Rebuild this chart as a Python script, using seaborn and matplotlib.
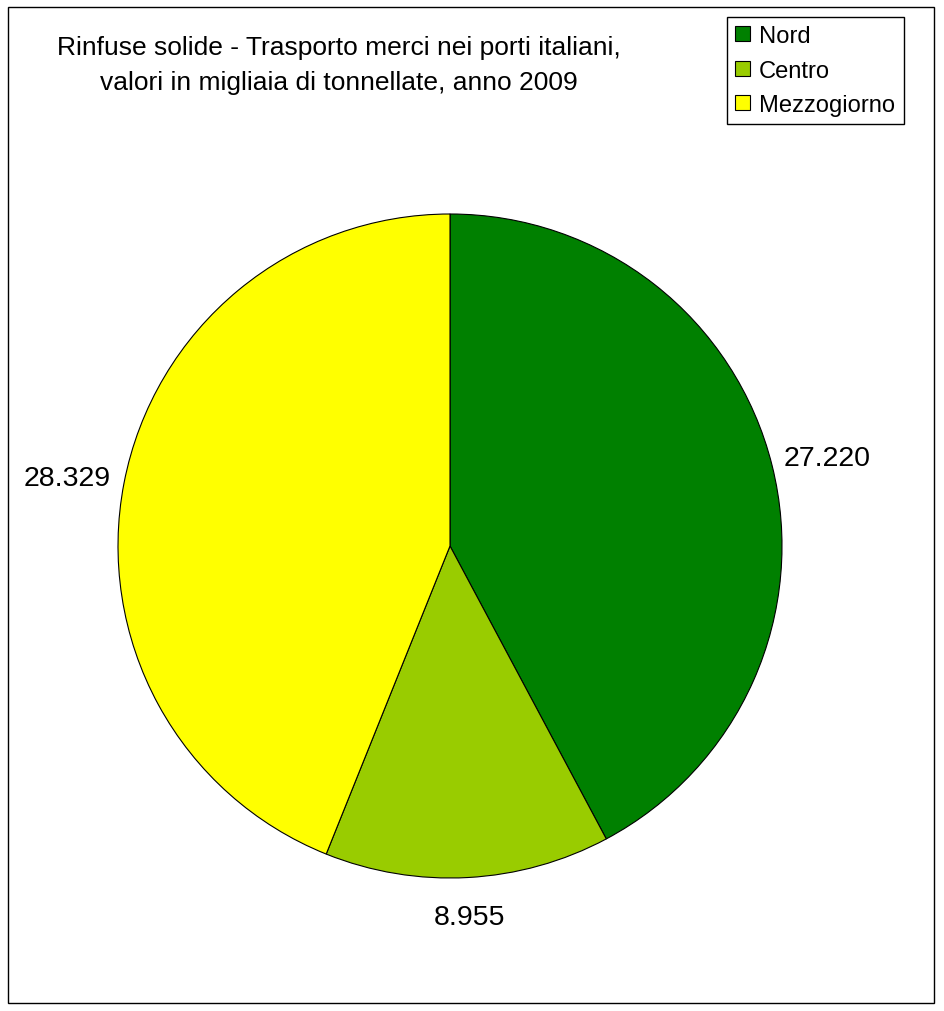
import matplotlib
matplotlib.use("Agg")
import matplotlib.pyplot as plt
import matplotlib.transforms as mtrans
import seaborn as sns
import numpy as np
from matplotlib.patches import Rectangle, Patch

categories = ["Nord", "Centro", "Mezzogiorno"]
values = [27220, 8955, 28329]
value_labels = ["27.220", "8.955", "28.329"]
colors = ["#008000", "#99CC00", "#FFFF00"]
title_lines = ["Rinfuse solide - Trasporto merci nei porti italiani,",
               "valori in migliaia di tonnellate, anno 2009"]

sns.set_style("white")
plt.rcParams['font.family'] = ['Liberation Sans', 'DejaVu Sans']
plt.rcParams['text.color'] = 'black'

W, H = 944, 1012
fig = plt.figure(figsize=(W / 100, H / 100), dpi=100)
fig.patch.set_facecolor("white")

# outer frame
fig.patches.append(Rectangle((8 / W, 8 / H), (934 - 8) / W, (1004 - 8) / H,
                             transform=fig.transFigure, fill=False,
                             edgecolor="black", linewidth=1.0))

cx, cy, r = 450, 547, 332
ax = fig.add_axes([(cx - r) / W, (H - cy - r) / H, 2 * r / W, 2 * r / H])
wedges, _ = ax.pie(values, colors=colors, startangle=90, counterclock=False,
                   wedgeprops=dict(edgecolor="black", linewidth=0.8))
ax.set_xlim(-1, 1)
ax.set_ylim(-1, 1)
ax.set_axis_off()

dists = [1.172, 1.10, 1.175]
shift = mtrans.ScaledTranslation(0, -6 / 100, fig.dpi_scale_trans)
for w, lab, d in zip(wedges, value_labels, dists):
    ang = np.deg2rad((w.theta1 + w.theta2) / 2)
    ax.text(d * np.cos(ang), d * np.sin(ang), lab, ha="center", va="center",
            fontsize=20.5, color="black", transform=ax.transData + shift)

fig.text(339 / W, 1 - 48 / H, title_lines[0], ha="center", va="center",
         fontsize=19, color="black")
fig.text(339 / W, 1 - 83 / H, title_lines[1], ha="center", va="center",
         fontsize=19, color="black")

handles = [Patch(facecolor=c, edgecolor="black", linewidth=0.8) for c in colors]
leg = fig.legend(handles, categories, loc="upper left",
                 bbox_to_anchor=(727 / W, 1 - 18 / H), fontsize=17.1,
                 frameon=True, fancybox=False, framealpha=1,
                 edgecolor="black", handlelength=0.6, handleheight=0.6,
                 handletextpad=0.4, borderpad=0.35, labelspacing=0.52,
                 borderaxespad=0)
leg.get_frame().set_linewidth(1.0)
for t in leg.get_texts():
    t.set_color("black")

fig.savefig("out.png", dpi=100)
